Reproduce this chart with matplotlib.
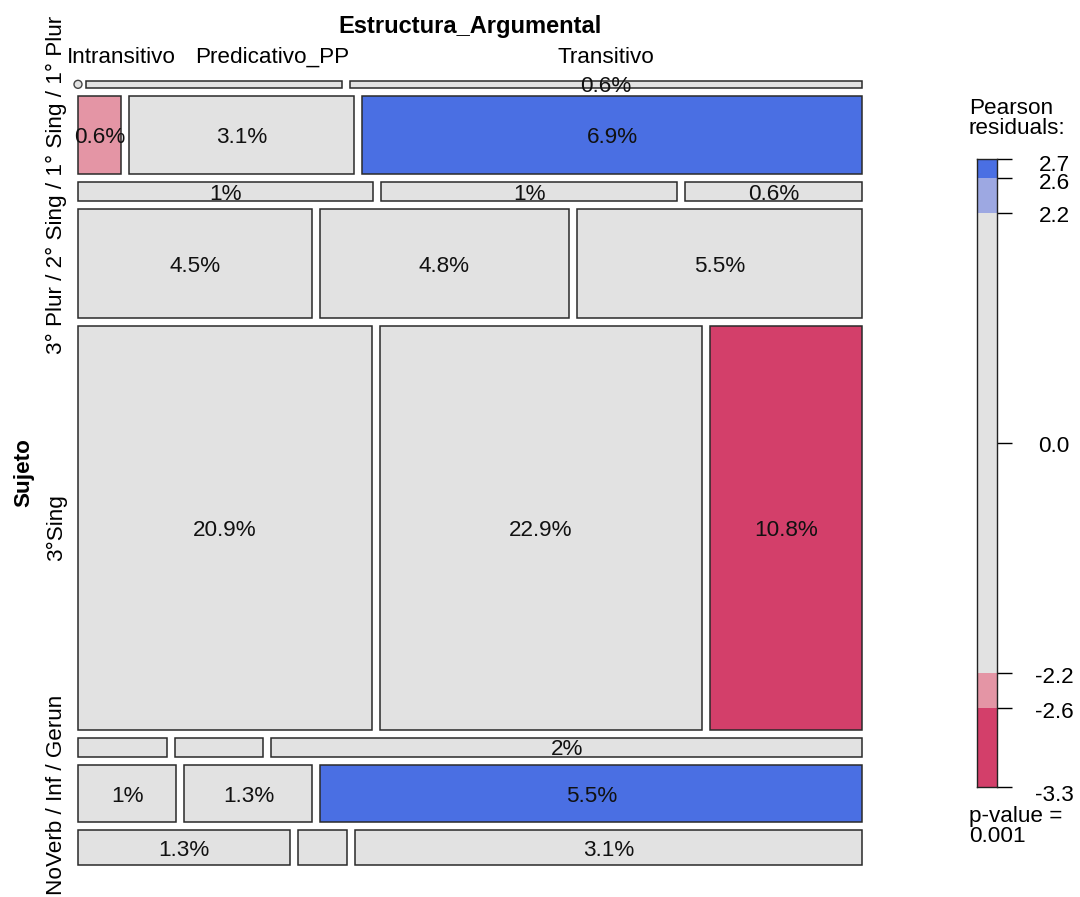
import numpy as np
import matplotlib as mpl
mpl.use('Agg')
from matplotlib import pyplot as plt
from matplotlib.patches import Rectangle, Circle

plt.rcParams['font.family'] = ['Liberation Sans', 'DejaVu Sans']

# datos: porcentaje del total por celda (Sujeto x Estructura_Argumental)
filas = ['1° Plur', '1° Sing', '2° Sing', '3° Plur', '3°Sing', 'Gerun', 'Inf', 'NoVerb']
columnas = ['Intransitivo', 'Predicativo_PP', 'Transitivo']
intransitivo = [0.0, 0.6, 1.0, 4.5, 20.9, 0.3, 1.0, 1.3]
predicativo = [0.3, 3.1, 1.0, 4.8, 22.9, 0.3, 1.3, 0.3]
transitivo = [0.6, 6.9, 0.6, 5.5, 10.8, 2.0, 5.5, 3.1]
n_casos = 288  # casos aprox.

# leyenda (residuos de Pearson)
cortes = [-3.32, -2.56, -2.22, 2.22, 2.56, 2.74]
ticks_leyenda = [2.74, 2.56, 2.22, 0.0, -2.22, -2.56, -3.32]
p_valor = 0.001

colores = ['#D33F6A', '#E495A5', '#E2E2E2', '#9DA8E2', '#4A6FE3']

tab = np.array([intransitivo, predicativo, transitivo]).T
obs = tab / tab.sum() * n_casos
esp = obs.sum(1)[:, None] * obs.sum(0)[None, :] / obs.sum()
res = (obs - esp) / np.sqrt(esp)

def color_res(r):
    for k in range(len(cortes) - 1):
        if r <= cortes[k + 1] or k == len(cortes) - 2:
            return colores[k]
    return colores[-1]

fig = plt.figure(figsize=(10.8, 8.97), dpi=100)
ax = fig.add_axes([0, 0, 1, 1])
ax.set_xlim(0, 1080)
ax.set_ylim(897, 0)
ax.axis('off')

x0, y0, lado, hueco = 78, 81, 784, 8
nf, nc = tab.shape
tot_fila = tab.sum(1)
altos = (lado - hueco * (nf - 1)) * tot_fila / tot_fila.sum()

y = y0
centros_fila = []
centros_col = []
for i in range(nf):
    h = altos[i]
    anchos = (lado - hueco * (nc - 1)) * tab[i] / tot_fila[i]
    x = x0
    for j in range(nc):
        w = anchos[j]
        if w == 0:
            ax.add_patch(Circle((x, y + h / 2), 4, fc='#E2E2E2', ec='#444444', lw=1.0))
        else:
            ax.add_patch(Rectangle((x, y), w, h, fc=color_res(res[i, j]), ec='#2a2a2a', lw=1.1))
            if tab[i, j] >= 0.5:
                ax.text(x + w / 2, y + h / 2 + 8, '{0:g}%'.format(tab[i, j]),
                        ha='center', va='baseline', fontsize=16.2, color='#111111')
        if i == 0:
            centros_col.append(x + w / 2)
        x += w + hueco
    centros_fila.append(y + h / 2)
    y += h + hueco

# titulos
ax.text(x0 + lado / 2, 33, 'Estructura_Argumental', ha='center', va='baseline',
        fontsize=17, fontweight='bold')
# las dos primeras etiquetas se corren para no solaparse (fila superior muy fina)
pos_col = [121, 272, centros_col[2]]
for c, xc in zip(columnas, pos_col):
    ax.text(xc, 63, c, ha='center', va='baseline', fontsize=16.2)

ax.text(29, y0 + lado / 2, 'Sujeto', rotation=90, rotation_mode='anchor',
        ha='center', va='baseline', fontsize=16.2, fontweight='bold')
ax.text(62, 185, ' / '.join(filas[:4][::-1]), rotation=90, rotation_mode='anchor',
        ha='center', va='baseline', fontsize=16.2)
ax.text(62, centros_fila[4], filas[4], rotation=90, rotation_mode='anchor',
        ha='center', va='baseline', fontsize=16.2)
ax.text(62, 795, ' / '.join(filas[5:][::-1]), rotation=90, rotation_mode='anchor',
        ha='center', va='baseline', fontsize=16.2)

# leyenda
lax = fig.add_axes([977 / 1080, 1 - 787 / 897, 20 / 1080, 628 / 897])
lax.set_ylim(cortes[0], cortes[-1])
lax.set_xlim(0, 1)
for k in range(len(cortes) - 1):
    lax.axhspan(cortes[k], cortes[k + 1], color=colores[k], lw=0)
for s in lax.spines.values():
    s.set_linewidth(1.0)
    s.set_color('#222222')
lax.set_xticks([])
lax.yaxis.tick_right()
lax.set_yticks(ticks_leyenda)
lax.tick_params(axis='y', direction='out', length=10.8, width=1.0, labelright=False)
for k, t in enumerate(ticks_leyenda):
    dy = -9.5
    if k == 0:
        dy = -12
    elif k == 1:
        dy = -11
    elif k == len(ticks_leyenda) - 1:
        dy = -14
    lax.annotate('{0:.1f}'.format(t), xy=(1, t), xycoords=lax.get_yaxis_transform(),
                 xytext=(57, dy), textcoords='offset pixels', ha='center', va='baseline',
                 fontsize=16.2, annotation_clip=False)

ax.text(969, 98, 'Pearson\nresiduals:', ha='left', va='top', fontsize=16.2, linespacing=0.95)
ax.text(969, 806, 'p-value =\n{0:.3f}'.format(p_valor), ha='left', va='top',
        fontsize=16.2, linespacing=0.95)

plt.savefig('out.png', dpi=100)
